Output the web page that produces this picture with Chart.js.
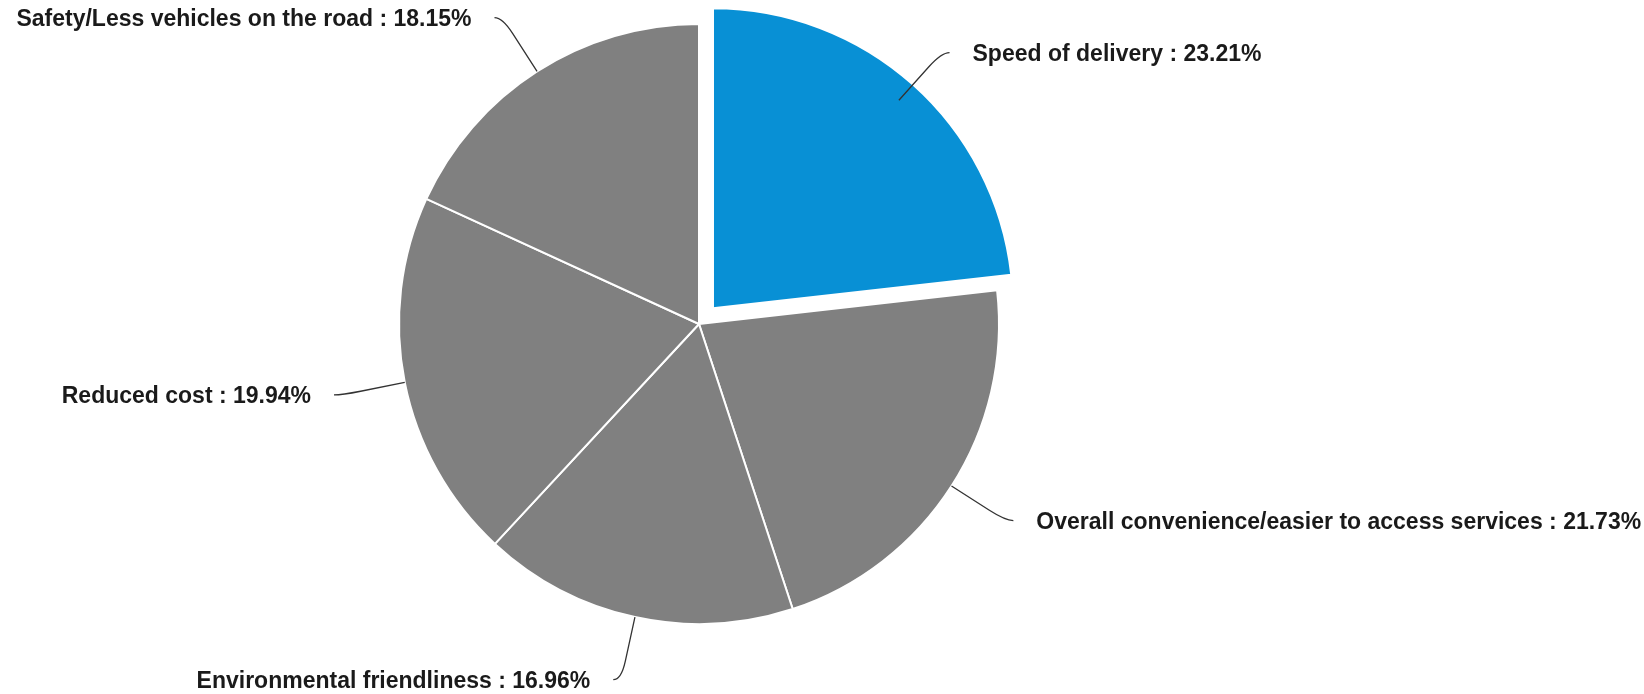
<!DOCTYPE html>
<html>
<head>
<meta charset="utf-8">
<script src="https://cdn.jsdelivr.net/npm/chart.js@4.4.1/dist/chart.umd.min.js"></script>
<style>
  html, body { margin: 0; padding: 0; background: #fff; }
  #pieChart { display: block; }
</style>
</head>
<body>
<canvas id="pieChart" width="1644" height="694"></canvas>
<script>
// data
var categories = [
  "Speed of delivery",
  "Overall convenience/easier to access services",
  "Environmental friendliness",
  "Reduced cost",
  "Safety/Less vehicles on the road",
];
var shares = [23.21, 21.73, 16.96, 19.94, 18.15];
var highlighted = 0;

var blue = "#0890d5";
var gray = "#808080";

// labels with curved connectors, like the original export
var pieLabels = {
  id: "pieLabels",
  afterDatasetsDraw(chart) {
    var ctx = chart.ctx;
    var arcs = chart.getDatasetMeta(0).data;
    ctx.save();
    ctx.font = "bold 23px 'Liberation Sans', Arial, sans-serif";
    ctx.textBaseline = "middle";
    arcs.forEach((arc, i) => {
      var p = arc.getProps(["startAngle", "endAngle", "outerRadius"], true);
      var mid = (p.startAngle + p.endAngle) / 2;
      var dx = Math.cos(mid), dy = Math.sin(mid);
      var cx = chart.chartArea.left + chart.chartArea.width / 2;
      var cy = chart.chartArea.top + chart.chartArea.height / 2;
      var r = p.outerRadius;
      var side = dx >= 0 ? 1 : -1;

      var touch = { x: cx + dx * r, y: cy + dy * r };
      var brk = { x: cx + dx * (r + 45), y: cy + dy * (r + 45) };
      var anchor = { x: cx + dx * (r + 64) + side * 8, y: cy + dy * (r + 64) };

      ctx.strokeStyle = "#333";
      ctx.lineWidth = 1.3;
      ctx.beginPath();
      ctx.moveTo(touch.x, touch.y);
      ctx.lineTo(brk.x, brk.y);
      ctx.bezierCurveTo(brk.x + dx * 10, brk.y + dy * 10, anchor.x - side * 6, anchor.y, anchor.x, anchor.y);
      ctx.stroke();

      var text = categories[i] + " : " + shares[i].toFixed(2) + "%";
      ctx.fillStyle = "#1a1a1a";
      ctx.textAlign = side > 0 ? "left" : "right";
      ctx.fillText(text, anchor.x + side * 23, anchor.y + 2);
    });
    ctx.restore();
  },
};

var ctx = document.getElementById("pieChart").getContext("2d");
var myChart = new Chart(ctx, {
  type: "pie",
  data: {
    labels: categories,
    datasets: [
      {
        data: shares,
        backgroundColor: shares.map((v, i) => (i === highlighted ? blue : gray)),
        borderColor: "#fff",
        borderWidth: 2,
        offset: shares.map((v, i) => (i === highlighted ? 84 : 0)),
        hoverOffset: 0,
        radius: 300,
      },
    ],
  },
  options: {
    responsive: false,
    animation: false,
    events: [],
    layout: {
      padding: { left: 0, right: 246, top: 0, bottom: 46 },
    },
    plugins: {
      legend: { display: false },
      tooltip: { enabled: false },
    },
  },
  plugins: [pieLabels],
});
</script>
</body>
</html>
